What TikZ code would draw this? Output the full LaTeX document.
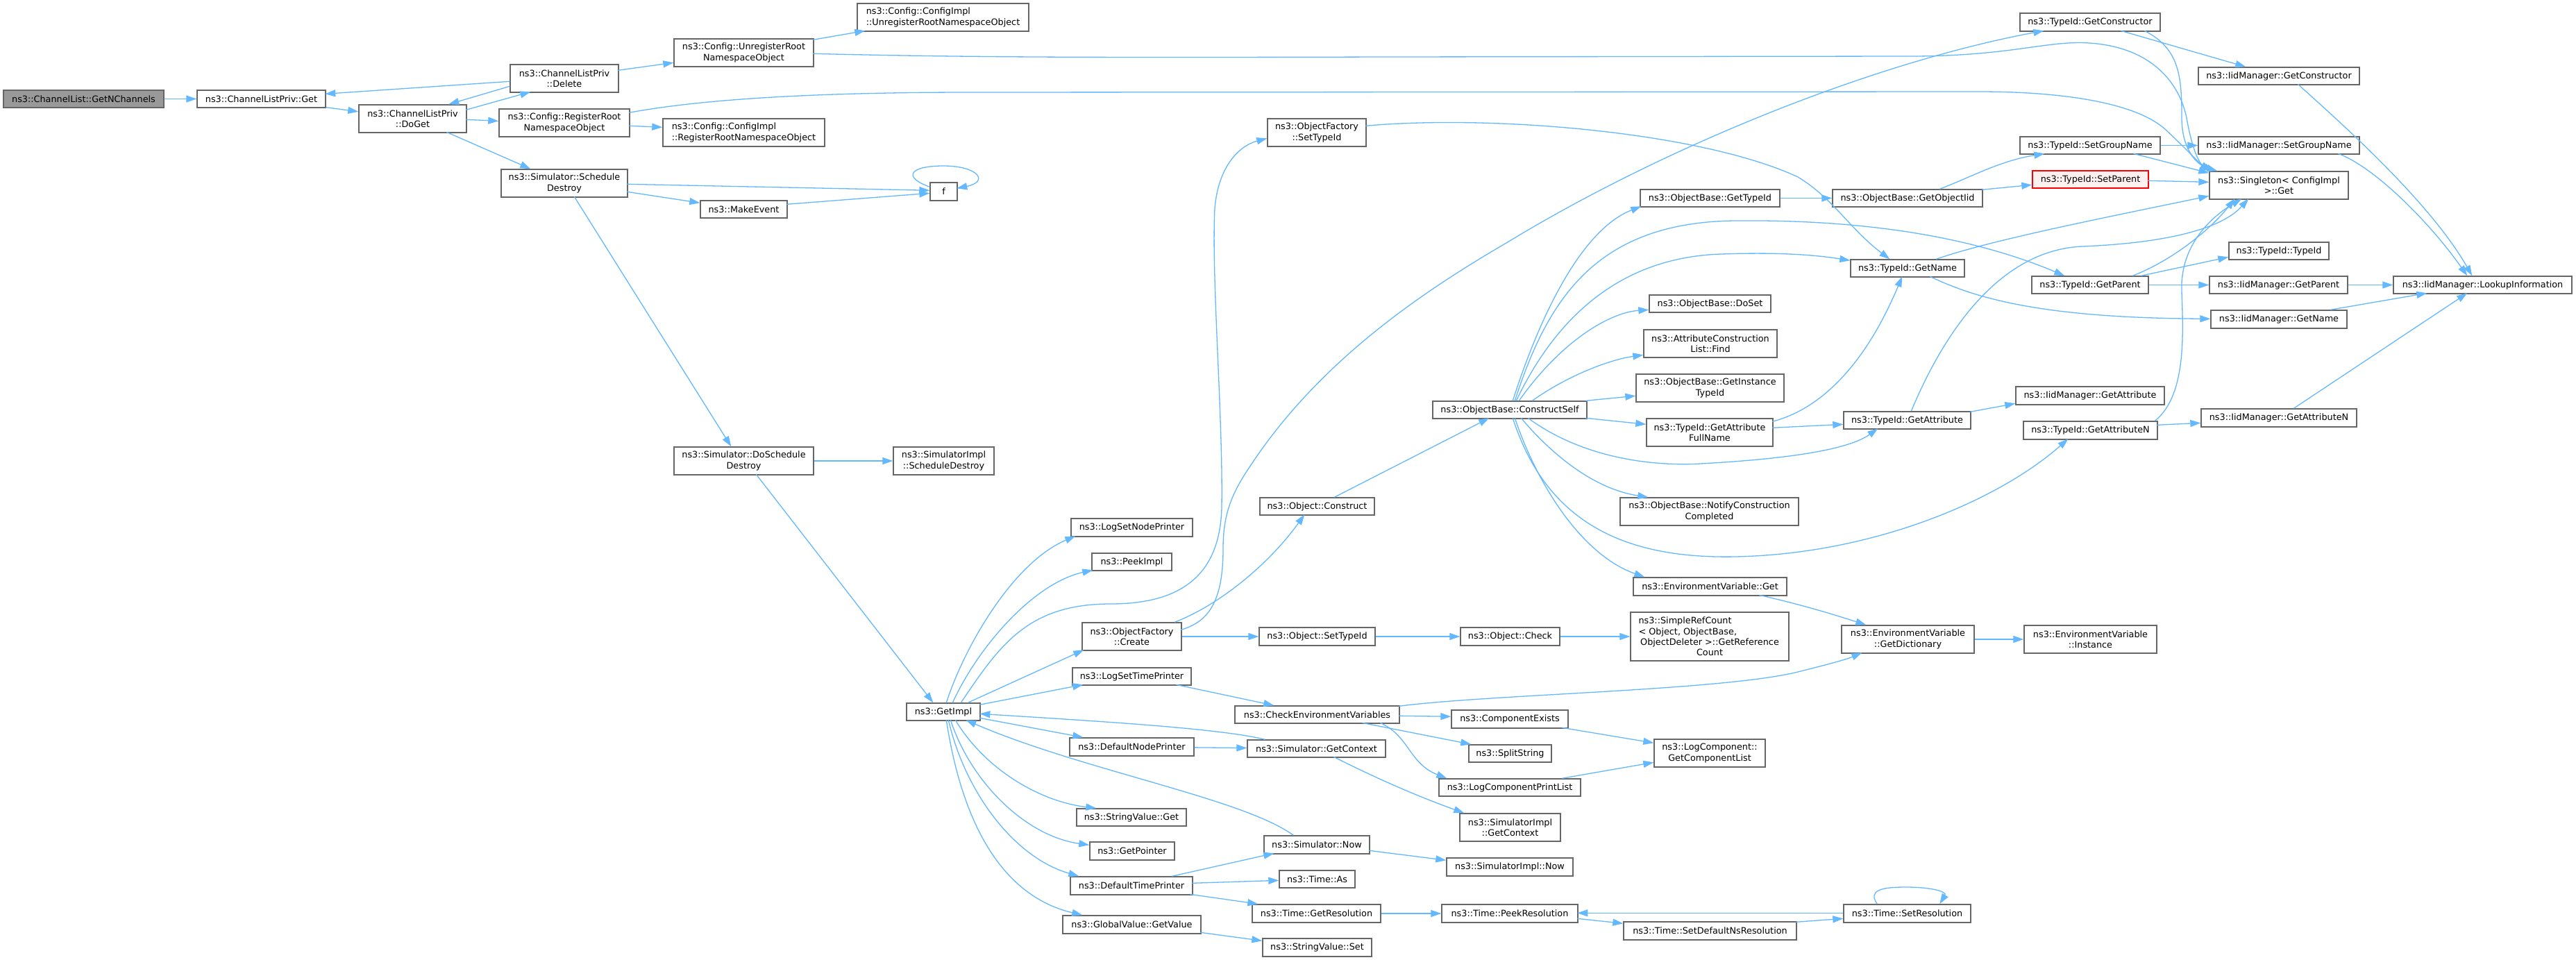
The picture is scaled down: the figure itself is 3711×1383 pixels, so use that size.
\documentclass[tikz,border=0pt]{standalone}
\usepackage{fontspec}
\newfontfamily\dvs{DejaVu Sans}
\usetikzlibrary{arrows.meta,calc}
\definecolor{edgec}{HTML}{63B8FF}
\definecolor{nodeb}{HTML}{666666}
\definecolor{startfill}{HTML}{999999}
\definecolor{redb}{HTML}{FF0000}
\definecolor{redf}{HTML}{FFF0F0}
\tikzset{
  box/.style={draw=nodeb, fill=white, line width=1.4pt, inner sep=0pt, align=center, text=black,
    font=\dvs\fontsize{12.8}{15.3}\selectfont},
  startbox/.style={fill=startfill},
  redbox/.style={draw=redb, fill=redf},
  e/.style={draw=edgec, line width=1.3pt, -{Triangle[length=15pt,width=10pt]}},
}
\newcommand{\mynode}[7]{\node[box,#6,minimum width={(#4)-(#2)},minimum height={(#5)-(#3)}] (#1) at ({((#2)+(#4))/2},{((#3)+(#5))/2}) {#7};}
\begin{document}
\begin{tikzpicture}[x=1pt,y=-1pt]
\fill[white] (0,0) rectangle (3711,1383);
\useasboundingbox (0,0) rectangle (3711,1383);
% nodes
\mynode{n0}{5}{130}{236}{155}{startbox}{ns3::ChannelList::GetNChannels}
\mynode{n1}{284}{130}{469}{155}{}{ns3::ChannelListPriv::Get}
\mynode{n2}{517}{151}{672}{191}{}{ns3::ChannelListPriv\\::DoGet}
\mynode{n3}{735}{93}{891}{133}{}{ns3::ChannelListPriv\\::Delete}
\mynode{n4}{719}{157}{907}{197}{}{ns3::Config::RegisterRoot\\NamespaceObject}
\mynode{n5}{722}{244}{904}{284}{}{ns3::Simulator::Schedule\\Destroy}
\mynode{n6}{971}{56}{1172}{96}{}{ns3::Config::UnregisterRoot\\NamespaceObject}
\mynode{n7}{1235}{5}{1482}{45}{align=left}{ns3::Config::ConfigImpl\\::UnregisterRootNamespaceObject}
\mynode{n8}{955}{171}{1188}{211}{align=left}{ns3::Config::ConfigImpl\\::RegisterRootNamespaceObject}
\mynode{n9}{1340}{263}{1379}{289}{}{f}
\mynode{n10}{1009}{289}{1134}{314}{}{ns3::MakeEvent}
\mynode{n11}{971}{644}{1172}{684}{}{ns3::Simulator::DoSchedule\\Destroy}
\mynode{n12}{1287}{644}{1432}{684}{}{ns3::SimulatorImpl\\::ScheduleDestroy}
\mynode{n13}{1306}{1013}{1412}{1038}{}{ns3::GetImpl}
\mynode{n14}{1543}{747}{1718}{773}{}{ns3::LogSetNodePrinter}
\mynode{n15}{1573}{797}{1688}{822}{}{ns3::PeekImpl}
\mynode{n16}{1559}{897}{1702}{937}{}{ns3::ObjectFactory\\::Create}
\mynode{n17}{1545}{962}{1716}{987}{}{ns3::LogSetTimePrinter}
\mynode{n18}{1541}{1063}{1720}{1089}{}{ns3::DefaultNodePrinter}
\mynode{n19}{1551}{1165}{1709}{1190}{}{ns3::StringValue::Get}
\mynode{n20}{1570}{1213}{1692}{1239}{}{ns3::GetPointer}
\mynode{n21}{1542}{1263}{1718}{1289}{}{ns3::DefaultTimePrinter}
\mynode{n22}{1531}{1319}{1730}{1345}{}{ns3::GlobalValue::GetValue}
\mynode{n23}{1826}{171}{1968}{211}{}{ns3::ObjectFactory\\::SetTypeId}
\mynode{n24}{1815}{717}{1980}{742}{}{ns3::Object::Construct}
\mynode{n25}{1814}{904}{1981}{930}{}{ns3::Object::SetTypeId}
\mynode{n26}{1779}{1017}{2016}{1042}{}{ns3::CheckEnvironmentVariables}
\mynode{n27}{1797}{1066}{1996}{1091}{}{ns3::Simulator::GetContext}
\mynode{n28}{1821}{1204}{1973}{1230}{}{ns3::Simulator::Now}
\mynode{n29}{1843}{1254}{1952}{1279}{}{ns3::Time::As}
\mynode{n30}{1804}{1303}{1989}{1329}{}{ns3::Time::GetResolution}
\mynode{n31}{1819}{1352}{1976}{1378}{}{ns3::StringValue::Set}
\mynode{n32}{2064}{578}{2286}{603}{}{ns3::ObjectBase::ConstructSelf}
\mynode{n33}{2104}{904}{2247}{930}{}{ns3::Object::Check}
\mynode{n34}{2091}{1023}{2259}{1049}{}{ns3::ComponentExists}
\mynode{n35}{2116}{1073}{2235}{1098}{}{ns3::SplitString}
\mynode{n36}{2073}{1122}{2277}{1147}{}{ns3::LogComponentPrintList}
\mynode{n37}{2103}{1172}{2248}{1212}{}{ns3::SimulatorImpl\\::GetContext}
\mynode{n38}{2084}{1236}{2266}{1262}{}{ns3::SimulatorImpl::Now}
\mynode{n39}{2077}{1303}{2273}{1329}{}{ns3::Time::PeekResolution}
\mynode{n40}{2363}{273}{2564}{298}{}{ns3::ObjectBase::GetTypeId}
\mynode{n41}{2376}{425}{2551}{450}{}{ns3::ObjectBase::DoSet}
\mynode{n42}{2368}{475}{2560}{515}{}{ns3::AttributeConstruction\\List::Find}
\mynode{n43}{2357}{539}{2570}{579}{}{ns3::ObjectBase::GetInstance\\TypeId}
\mynode{n44}{2372}{603}{2554}{643}{}{ns3::TypeId::GetAttribute\\FullName}
\mynode{n45}{2334}{717}{2591}{757}{}{ns3::ObjectBase::NotifyConstruction\\Completed}
\mynode{n46}{2353}{832}{2574}{858}{}{ns3::EnvironmentVariable::Get}
\mynode{n47}{2349}{882}{2577}{952}{}{\makebox[205pt][l]{ns3::SimpleRefCount}\\\makebox[205pt][l]{< Object, ObjectBase,}\\ObjectDeleter >::GetReference\\Count}
\mynode{n48}{2383}{1065}{2543}{1105}{}{ns3::LogComponent::\\GetComponentList}
\mynode{n49}{2339}{1328}{2588}{1354}{}{ns3::Time::SetDefaultNsResolution}
\mynode{n50}{2640}{273}{2856}{298}{}{ns3::ObjectBase::GetObjectIid}
\mynode{n51}{2666}{374}{2830}{399}{}{ns3::TypeId::GetName}
\mynode{n52}{2656}{593}{2839}{618}{}{ns3::TypeId::GetAttribute}
\mynode{n53}{2653}{901}{2844}{941}{}{ns3::EnvironmentVariable\\::GetDictionary}
\mynode{n54}{2656}{1303}{2839}{1329}{}{ns3::Time::SetResolution}
\mynode{n55}{2910}{19}{3112}{45}{}{ns3::TypeId::GetConstructor}
\mynode{n56}{2910}{197}{3112}{222}{}{ns3::TypeId::SetGroupName}
\mynode{n57}{2928}{246}{3095}{271}{redbox}{ns3::TypeId::SetParent}
\mynode{n58}{2927}{398}{3095}{423}{}{ns3::TypeId::GetParent}
\mynode{n59}{2904}{557}{3118}{583}{}{ns3::IidManager::GetAttribute}
\mynode{n60}{2915}{607}{3108}{633}{}{ns3::TypeId::GetAttributeN}
\mynode{n61}{2916}{901}{3107}{941}{}{ns3::EnvironmentVariable\\::Instance}
\mynode{n62}{3167}{97}{3399}{122}{}{ns3::IidManager::GetConstructor}
\mynode{n63}{3167}{197}{3399}{222}{}{ns3::IidManager::SetGroupName}
\mynode{n64}{3183}{247}{3383}{287}{}{ns3::Singleton< ConfigImpl\\ >::Get}
\mynode{n65}{3211}{349}{3355}{374}{}{ns3::TypeId::TypeId}
\mynode{n66}{3183}{398}{3382}{423}{}{ns3::IidManager::GetParent}
\mynode{n67}{3185}{447}{3381}{473}{}{ns3::IidManager::GetName}
\mynode{n68}{3171}{589}{3395}{615}{}{ns3::IidManager::GetAttributeN}
\mynode{n69}{3448}{398}{3705}{423}{}{ns3::IidManager::LookupInformation}
% edges
\draw[e] (n0) -- (n1);
\draw[e] (n1) -- (n2);
\draw[e] ($(n2.north west)+(155,8)$) -- ($(n3.north west)+(30,40)$);
\draw[e] ($(n3.north west)+(0,25)$) -- ($(n1.north west)+(185,6)$);
\draw[e] ($(n3.north west)+(0,32)$) -- ($(n2.north west)+(130,0)$);
\draw[e] ($(n3.north west)+(156,9)$) -- ($(n6.north west)+(0,35)$);
\draw[e] ($(n2.north west)+(155,22)$) -- ($(n4.north west)+(0,18)$);
\draw[e] ($(n2.north west)+(127,40)$) -- ($(n5.north west)+(43,0)$);
\draw[e] ($(n6.north west)+(201,2)$) -- ($(n7.north west)+(12,40)$);
\draw[e] ($(n6.north west)+(201,22)$) .. controls (1400,83) and (1600,83) .. (2000,82) -- (2760,81) .. controls (2900,80) and (2950,58) .. (3010,62) .. controls (3100,68) and (3140,120) .. (3150,170) .. controls (3158,215) and (3168,237) .. ($(n64.north west)+(7,0)$);
\draw[e] ($(n4.north west)+(188,6)$) .. controls (1000,145) and (1150,133) .. (1400,133) -- (2850,132) .. controls (2980,132) and (3080,150) .. (3120,187) .. controls (3150,215) and (3168,235) .. ($(n64.north west)+(2,0)$);
\draw[e] ($(n4.north west)+(188,25)$) -- ($(n8.north west)+(0,13)$);
\draw[e] ($(n5.north west)+(182,22)$) -- ($(n9.north west)+(0,12)$);
\draw[e] ($(n5.north west)+(182,33)$) -- ($(n10.north west)+(0,4)$);
\draw[e] ($(n10.north west)+(125,6)$) -- ($(n9.north west)+(0,16)$);
\draw[e] ($(n9.north west)+(0,7)$) .. controls (1300,255) and (1310,239) .. (1359,239) .. controls (1410,239) and (1425,262) .. ($(n9.north west)+(39,9)$);
\draw[e] ($(n5.north west)+(106,40)$) -- ($(n11.north west)+(83,0)$);
\draw[e] (n11) -- (n12);
\draw[e] ($(n11.north west)+(119,40)$) -- ($(n13.north west)+(39,0)$);
\draw[e] ($(n13.north west)+(58,0)$) .. controls (1390,930) and (1460,810) .. ($(n14.north west)+(7,26)$);
\draw[e] ($(n13.north west)+(67,0)$) .. controls (1410,930) and (1490,840) .. ($(n15.north west)+(2,25)$);
\draw[e] ($(n13.north west)+(79,0)$) .. controls (1440,930) and (1480,870) .. (1600,870) .. controls (1700,870) and (1758,830) .. (1760,730) .. controls (1762,600) and (1745,400) .. (1750,300) .. controls (1755,240) and (1785,210) .. ($(n23.north west)+(0,29)$);
\draw[e] ($(n16.north west)+(143,11)$) .. controls (1745,895) and (1762,860) .. (1762,790) .. controls (1762,740) and (1775,710) .. (1800,673) .. controls (1900,520) and (2050,420) .. (2170,350) .. controls (2400,210) and (2700,90) .. ($(n55.north west)+(35,26)$);
\draw[e] ($(n16.north west)+(134,0)$) .. controls (1760,870) and (1830,810) .. ($(n24.north west)+(65,25)$);
\draw[e] (n16) -- (n25);
\draw[e] ($(n13.north west)+(89,0)$) -- ($(n16.north west)+(3,40)$);
\draw[e] ($(n13.north west)+(106,3)$) -- ($(n17.north west)+(16,25)$);
\draw[e] ($(n13.north west)+(106,22)$) -- ($(n18.north west)+(20,0)$);
\draw[e] ($(n13.north west)+(71,25)$) .. controls (1420,1110) and (1500,1155) .. ($(n19.north west)+(29,0)$);
\draw[e] ($(n13.north west)+(64,25)$) .. controls (1400,1130) and (1480,1205) .. ($(n20.north west)+(0,5)$);
\draw[e] ($(n13.north west)+(61,25)$) .. controls (1390,1140) and (1460,1235) .. ($(n21.north west)+(13,0)$);
\draw[e] ($(n13.north west)+(58,25)$) .. controls (1385,1180) and (1440,1290) .. ($(n22.north west)+(29,0)$);
\draw[e] ($(n27.north west)+(26,0)$) .. controls (1760,1050) and (1600,1040) .. ($(n13.north west)+(106,16)$);
\draw[e] ($(n28.north west)+(43,0)$) .. controls (1790,1150) and (1560,1110) .. ($(n13.north west)+(86,25)$);
\draw[e] ($(n17.north west)+(150,25)$) -- ($(n26.north west)+(57,0)$);
\draw[e] (n18) -- (n27);
\draw[e] ($(n27.north west)+(125,25)$) .. controls (1990,1125) and (2050,1150) .. ($(n37.north west)+(7,0)$);
\draw[e] ($(n28.north west)+(152,22)$) -- ($(n38.north west)+(0,4)$);
\draw[e] ($(n21.north west)+(147,0)$) -- ($(n28.north west)+(15,26)$);
\draw[e] ($(n21.north west)+(176,10)$) -- ($(n29.north west)+(0,15)$);
\draw[e] ($(n21.north west)+(173,26)$) -- ($(n30.north west)+(9,0)$);
\draw[e] (n30) -- (n39);
\draw[e] ($(n22.north west)+(199,25)$) -- ($(n31.north west)+(0,4)$);
\draw[e] ($(n26.north west)+(237,15)$) -- ($(n34.north west)+(0,10)$);
\draw[e] ($(n26.north west)+(184,25)$) -- ($(n35.north west)+(4,0)$);
\draw[e] ($(n26.north west)+(210,25)$) .. controls (2030,1060) and (2030,1100) .. ($(n36.north west)+(12,0)$);
\draw[e] ($(n26.north west)+(237,1)$) .. controls (2150,1000) and (2480,995) .. (2590,968) .. controls (2630,958) and (2660,950) .. ($(n53.north west)+(30,40)$);
\draw[e] ($(n34.north west)+(160,26)$) -- ($(n48.north west)+(0,6)$);
\draw[e] ($(n36.north west)+(178,0)$) -- ($(n48.north west)+(0,34)$);
\draw[e] ($(n39.north west)+(196,21)$) -- ($(n49.north west)+(0,3)$);
\draw[e] ($(n49.north west)+(249,1)$) -- ($(n54.north west)+(0,21)$);
\draw[e] ($(n54.north west)+(0,13)$) -- ($(n39.north west)+(196,13)$);
\draw[e] ($(n54.north west)+(49,0)$) .. controls (2690,1282) and (2712,1278) .. (2745,1278) .. controls (2785,1278) and (2805,1285) .. ($(n54.north west)+(139,0)$);
\draw[e] ($(n24.north west)+(108,0)$) -- ($(n32.north west)+(82,25)$);
\draw[e] (n25) -- (n33);
\draw[e] (n33) -- (n47);
\draw[e] ($(n32.north west)+(116,0)$) .. controls (2220,450) and (2280,330) .. ($(n40.north west)+(2,25)$);
\draw[e] ($(n32.north west)+(119,0)$) .. controls (2230,430) and (2300,320) .. (2500,318) .. controls (2700,316) and (2850,345) .. ($(n58.north west)+(48,0)$);
\draw[e] ($(n32.north west)+(121,0)$) .. controls (2250,440) and (2350,370) .. (2480,366) .. controls (2570,363) and (2620,368) .. ($(n51.north west)+(0,2)$);
\draw[e] ($(n32.north west)+(125,0)$) .. controls (2250,490) and (2320,450) .. ($(n41.north west)+(0,22)$);
\draw[e] ($(n32.north west)+(144,0)$) .. controls (2260,540) and (2320,518) .. ($(n42.north west)+(0,37)$);
\draw[e] ($(n32.north west)+(221,0)$) -- ($(n43.north west)+(0,32)$);
\draw[e] ($(n32.north west)+(221,25)$) -- ($(n44.north west)+(0,9)$);
\draw[e] ($(n32.north west)+(138,25)$) .. controls (2280,660) and (2380,672) .. (2450,668) .. controls (2560,662) and (2660,650) .. ($(n52.north west)+(50,25)$);
\draw[e] ($(n32.north west)+(128,25)$) .. controls (2240,660) and (2300,705) .. ($(n45.north west)+(41,0)$);
\draw[e] ($(n32.north west)+(119,25)$) .. controls (2215,700) and (2280,800) .. ($(n46.north west)+(17,0)$);
\draw[e] ($(n32.north west)+(116,25)$) .. controls (2230,760) and (2350,805) .. (2500,802) .. controls (2700,798) and (2880,720) .. ($(n60.north west)+(65,26)$);
\draw[e] (n40) -- (n50);
\draw[e] ($(n50.north west)+(155,0)$) .. controls (2840,255) and (2880,232) .. ($(n56.north west)+(36,25)$);
\draw[e] ($(n50.north west)+(216,1)$) -- ($(n57.north west)+(0,21)$);
\draw[e] (n56) -- (n63);
\draw[e] ($(n56.north west)+(164,25)$) -- ($(n64.north west)+(0,3)$);
\draw[e] ($(n57.north west)+(167,15)$) -- ($(n64.north west)+(0,16)$);
\draw[e] ($(n55.north west)+(146,26)$) -- ($(n62.north west)+(69,0)$);
\draw[e] ($(n55.north west)+(180,26)$) .. controls (3140,70) and (3143,110) .. (3143,170) .. controls (3143,215) and (3165,238) .. ($(n64.north west)+(12,0)$);
\draw[e] ($(n62.north west)+(144,25)$) .. controls (3370,175) and (3500,290) .. ($(n69.north west)+(114,0)$);
\draw[e] ($(n63.north west)+(202,25)$) .. controls (3420,240) and (3500,320) .. ($(n69.north west)+(107,0)$);
\draw[e] ($(n51.north west)+(124,0)$) .. controls (2870,345) and (3050,310) .. ($(n64.north west)+(0,36)$);
\draw[e] ($(n51.north west)+(115,25)$) .. controls (2850,432) and (2950,458) .. ($(n67.north west)+(0,13)$);
\draw[e] ($(n44.north west)+(182,5)$) .. controls (2620,590) and (2685,530) .. ($(n51.north west)+(75,25)$);
\draw[e] ($(n44.north west)+(182,14)$) -- ($(n52.north west)+(0,19)$);
\draw[e] ($(n52.north west)+(183,1)$) -- ($(n59.north west)+(0,25)$);
\draw[e] ($(n52.north west)+(98,0)$) .. controls (2800,480) and (2880,360) .. (3000,355) .. controls (3120,350) and (3200,330) .. ($(n64.north west)+(57,40)$);
\draw[e] ($(n58.north west)+(146,0)$) .. controls (3130,375) and (3185,330) .. ($(n64.north west)+(37,40)$);
\draw[e] ($(n58.north west)+(158,0)$) -- ($(n65.north west)+(0,22)$);
\draw[e] (n58) -- (n66);
\draw[e] (n66) -- (n69);
\draw[e] ($(n67.north west)+(173,0)$) -- ($(n69.north west)+(49,25)$);
\draw[e] ($(n60.north west)+(193,6)$) -- ($(n68.north west)+(0,21)$);
\draw[e] ($(n60.north west)+(190,0)$) .. controls (3150,570) and (3145,480) .. (3143,420) .. controls (3140,350) and (3190,310) .. ($(n64.north west)+(47,40)$);
\draw[e] ($(n68.north west)+(134,0)$) -- ($(n69.north west)+(107,25)$);
\draw[e] ($(n46.north west)+(182,26)$) .. controls (2600,872) and (2650,888) .. ($(n53.north west)+(36,0)$);
\draw[e] (n53) -- (n61);
\draw[e] ($(n23.north west)+(142,11)$) .. controls (2150,165) and (2450,190) .. (2590,255) .. controls (2640,285) and (2665,330) .. ($(n51.north west)+(57,0)$);
\end{tikzpicture}
\end{document}
